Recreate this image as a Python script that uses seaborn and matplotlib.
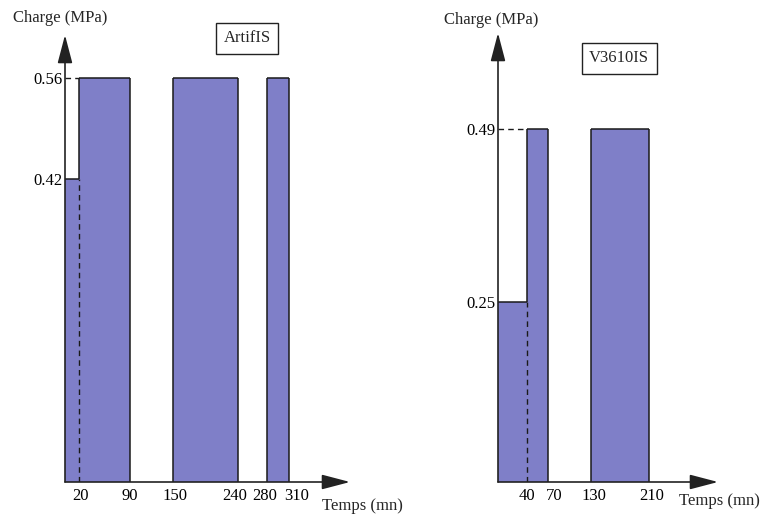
import numpy as np
import matplotlib
matplotlib.use("Agg")
import matplotlib.pyplot as plt
import matplotlib.transforms as mtransforms
import seaborn as sns

# Load programmes (time in mn, load in MPa)
artif_start = [0, 20, 150, 280]
artif_end = [20, 90, 240, 310]
artif_load = [0.42, 0.56, 0.56, 0.56]

v3610_start = [0, 40, 130]
v3610_end = [40, 70, 210]
v3610_load = [0.25, 0.49, 0.49]

panel_names = ["ArtifIS", "V3610IS"]
y_label = "Charge (MPa)"
x_label = "Temps (mn)"

sns.set_theme(style="white")
plt.rcParams['font.family'] = ['Liberation Serif', 'DejaVu Serif']

fill = "#7f7fc8"
edge = "#1a1a1a"
fs = 12
W, H = 762, 514

fig = plt.figure(figsize=(W / 100, H / 100), dpi=100)


def px_axes(x0, x1, ytop, ybot):
    return fig.add_axes([x0 / W, (H - ybot) / H, (x1 - x0) / W, (ybot - ytop) / H])


def draw_panel(ax, start, end, load, xmax, ymax, label_shift):
    start, end, load = np.array(start), np.array(end), np.array(load)
    ax.set_xlim(0, xmax)
    ax.set_ylim(0, ymax)
    ax.bar(start, load, width=end - start, align="edge", color=fill, linewidth=0)
    dash = (0, (4, 3))
    for i in range(len(start)):
        ax.hlines(load[i], start[i], end[i], color=edge, lw=1.1)
        if i > 0 and end[i - 1] == start[i]:
            lo, hi = sorted([load[i - 1], load[i]])
            ax.vlines(start[i], lo, hi, color=edge, lw=1.1)
            ax.vlines(start[i], 0, lo, color=edge, lw=1.0, linestyles=dash)
        elif start[i] > 0:
            ax.vlines(start[i], 0, load[i], color=edge, lw=1.1)
        if i == len(start) - 1 or start[i + 1] != end[i]:
            ax.vlines(end[i], 0, load[i], color=edge, lw=1.1)
    # dashed guide from the axis to the first bar at each level
    for lv in np.unique(load):
        s0 = start[load == lv].min()
        if s0 > 0:
            ax.hlines(lv, 0, s0, color=edge, lw=1.0, linestyles=dash)
    for s in ax.spines.values():
        s.set_visible(False)
    ax.set_yticks(np.unique(load))
    ax.set_yticklabels([f"{v:.2f}" for v in np.unique(load)])
    xt = sorted(t for t in set(start) | set(end) if t > 0)
    ax.set_xticks(xt)
    ax.set_xticklabels([str(int(t)) for t in xt])
    ax.tick_params(length=0, labelsize=fs, colors="black")
    ax.tick_params(axis="y", pad=2)
    ax.tick_params(axis="x", pad=4)
    # nudge crowded time labels apart like in the original drawing
    for lab, dx in zip(ax.get_xticklabels(), label_shift):
        lab.set_transform(lab.get_transform()
                          + mtransforms.ScaledTranslation(dx / 100, 0, fig.dpi_scale_trans))
    ax.grid(False)
    arrow = dict(arrowstyle="-|>,head_length=1.45,head_width=0.38", lw=1.2,
                 color="#222222", shrinkA=0, shrinkB=0)
    ax.annotate("", xy=(1, 0), xytext=(0, 0), xycoords="axes fraction", arrowprops=arrow,
                annotation_clip=False)
    ax.annotate("", xy=(0, 1), xytext=(0, 0), xycoords="axes fraction", arrowprops=arrow,
                annotation_clip=False)


ax1 = px_axes(65, 350, 35, 482)
draw_panel(ax1, artif_start, artif_end, artif_load, 285 / 0.7226, 447 / 721,
           [1.5, 0, 1.5, -4, -3, 8])
ax2 = px_axes(498, 718, 33, 482)
draw_panel(ax2, v3610_start, v3610_end, v3610_load, 220 / 0.719, 449 / 721,
           [0, 6, 2.5, 2.5])

fig.text(60 / W, 1 - 18 / H, y_label, ha="center", va="center", fontsize=fs)
fig.text(491 / W, 1 - 20 / H, y_label, ha="center", va="center", fontsize=fs)
fig.text(362.5 / W, 1 - 506 / H, x_label, ha="center", va="center", fontsize=fs)
fig.text(719 / W, 1 - 501 / H, x_label, ha="center", va="center", fontsize=fs)

box = dict(boxstyle="square,pad=0.45", fc="white", ec="#222222", lw=1.0)
fig.text(247 / W, 1 - 38.5 / H, panel_names[0], ha="center", va="center", fontsize=fs, bbox=box)
fig.text(619 / W, 1 - 58 / H, panel_names[1], ha="center", va="center", fontsize=fs, bbox=box)

fig.savefig("out.png", dpi=100)
